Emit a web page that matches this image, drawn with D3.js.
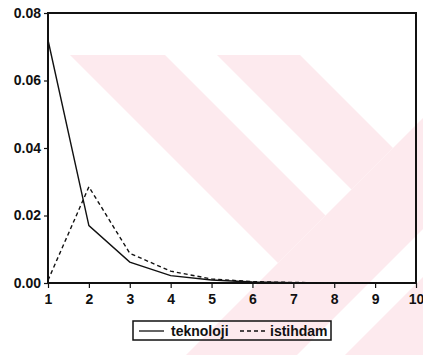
<!DOCTYPE html>
<html>
<head>
<meta charset="utf-8">
<script src="https://cdn.jsdelivr.net/npm/d3@7"></script>
<style>
  body { margin: 0; background: #fff; }
  text { font-family: "Liberation Sans", Arial, sans-serif; font-weight: bold; fill: #111; }
</style>
</head>
<body>
<script>
// data
var periods = [1, 2, 3, 4, 5, 6, 7, 8, 9, 10];
var teknoloji = [0.072, 0.017, 0.0062, 0.0022, 0.0009, 0.0003, 0.0001, 0.00005, 0.00002, 0.00001];
var istihdam = [0.0008, 0.0285, 0.0088, 0.0035, 0.0012, 0.0004, 0.00015, 0.00005, 0.00002, 0.00001];
var yTicks = [0, 0.02, 0.04, 0.06, 0.08];
var seriesNames = ["teknoloji", "istihdam"];

var w = 423, h = 355;
var margin = {top: 13, right: 7, bottom: 70, left: 48};

var svg = d3.select("body").append("svg")
  .attr("width", w)
  .attr("height", h);

// faint watermark stripes behind the chart
var wm = svg.append("g").attr("fill", "#fdeaee");
var stripes = [
  [[70, 55], [165, 55], [325.5, 215.5], [278, 263]],
  [[217, 55], [300, 55], [393, 148], [351.5, 189.5]],
  [[186, 355], [423, 118], [423, 229], [297, 355]],
  [[345, 355], [423, 277], [423, 355]]
];
wm.selectAll("polygon")
  .data(stripes)
  .enter().append("polygon")
  .attr("points", function(d) { return d.map(function(p) { return p.join(","); }).join(" "); });

var x = d3.scaleLinear().domain([1, 10]).range([margin.left, w - margin.right]);
var y = d3.scaleLinear().domain([0, 0.08]).range([h - margin.bottom - 2, margin.top]);

var g = svg.append("g");

// y axis
var yAxis = g.append("g")
  .attr("transform", "translate(" + margin.left + ",0)")
  .call(d3.axisLeft(y).tickValues(yTicks).tickFormat(d3.format(".2f")).tickSize(4).tickPadding(3));
yAxis.select(".domain").remove();
yAxis.selectAll("text").style("font-size", "14px").attr("fill", "#111");
yAxis.selectAll("line").attr("stroke", "#111").attr("stroke-width", 1.2);

// x axis
var xAxis = g.append("g")
  .attr("transform", "translate(0," + y(0) + ")")
  .call(d3.axisBottom(x).tickValues(periods).tickFormat(d3.format("d")).tickSize(5).tickPadding(6));
xAxis.select(".domain").remove();
xAxis.selectAll("text").style("font-size", "14px").attr("fill", "#111");
xAxis.selectAll("line").attr("stroke", "#111").attr("stroke-width", 1.2);

// frame
g.append("rect")
  .attr("x", x(1))
  .attr("y", y(0.08))
  .attr("width", x(10) - x(1))
  .attr("height", y(0) - y(0.08))
  .attr("fill", "none")
  .attr("stroke", "#111")
  .attr("stroke-width", 2);

var line = d3.line()
  .x(function(d, i) { return x(periods[i]); })
  .y(function(d) { return y(d); });

g.append("path")
  .datum(teknoloji)
  .attr("d", line)
  .attr("fill", "none")
  .attr("stroke", "#111")
  .attr("stroke-width", 1.4);

g.append("path")
  .datum(istihdam)
  .attr("d", line)
  .attr("fill", "none")
  .attr("stroke", "#111")
  .attr("stroke-width", 1.4)
  .attr("stroke-dasharray", "4,3");

// legend
var lg = svg.append("g");
lg.append("rect")
  .attr("x", 133).attr("y", 321)
  .attr("width", 198).attr("height", 19)
  .attr("fill", "none")
  .attr("stroke", "#111")
  .attr("stroke-width", 1.5);

var items = [
  {name: seriesNames[0], lx: 139, tx: 171, dash: null},
  {name: seriesNames[1], lx: 240, tx: 270, dash: "4,3"}
];
items.forEach(function(it) {
  lg.append("line")
    .attr("x1", it.lx).attr("x2", it.lx + 25)
    .attr("y1", 331).attr("y2", 331)
    .attr("stroke", "#111")
    .attr("stroke-width", 1.3)
    .attr("stroke-dasharray", it.dash);
  lg.append("text")
    .attr("x", it.tx).attr("y", 336)
    .style("font-size", "14px")
    .text(it.name);
});
</script>
</body>
</html>
